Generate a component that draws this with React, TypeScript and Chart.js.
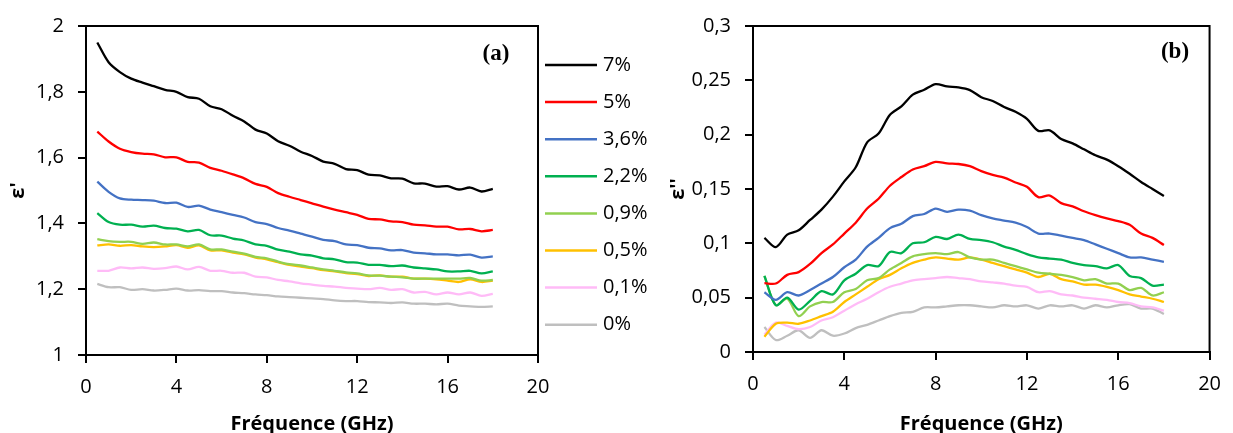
import React, { useEffect, useRef } from 'react';
import { Chart, registerables } from 'chart.js';

Chart.register(...registerables);

// Frequency (GHz)
const freq = [0.5, 1, 1.5, 2, 2.5, 3, 3.5, 4, 4.5, 5, 5.5, 6, 6.5, 7, 7.5, 8, 8.5, 9, 9.5, 10, 10.5, 11, 11.5, 12, 12.5, 13, 13.5, 14, 14.5, 15, 15.5, 16, 16.5, 17, 17.5, 18];

const seriesLabels = ['7%', '5%', '3,6%', '2,2%', '0,9%', '0,5%', '0,1%', '0%'];
const seriesColors = ['#000000', '#FF0000', '#4472C4', '#00B050', '#92D050', '#FFC000', '#FFBBF7', '#BFBFBF'];

// (a) epsilon'
const epsR_7 = [1.95, 1.89, 1.86, 1.84, 1.828, 1.817, 1.806, 1.8, 1.784, 1.779, 1.756, 1.747, 1.727, 1.71, 1.685, 1.673, 1.65, 1.636, 1.618, 1.605, 1.588, 1.581, 1.565, 1.562, 1.548, 1.546, 1.537, 1.536, 1.522, 1.521, 1.512, 1.513, 1.503, 1.509, 1.497, 1.505];
const epsR_5 = [1.679, 1.649, 1.627, 1.617, 1.612, 1.61, 1.601, 1.601, 1.587, 1.585, 1.569, 1.56, 1.549, 1.537, 1.52, 1.511, 1.492, 1.481, 1.471, 1.461, 1.451, 1.442, 1.434, 1.426, 1.414, 1.412, 1.406, 1.404, 1.396, 1.394, 1.39, 1.39, 1.382, 1.383, 1.376, 1.38];
const epsR_36 = [1.527, 1.496, 1.476, 1.472, 1.471, 1.469, 1.462, 1.463, 1.45, 1.454, 1.442, 1.434, 1.426, 1.418, 1.404, 1.398, 1.386, 1.378, 1.369, 1.36, 1.35, 1.346, 1.336, 1.334, 1.326, 1.324, 1.318, 1.319, 1.311, 1.309, 1.306, 1.306, 1.303, 1.305, 1.296, 1.3];
const epsR_22 = [1.431, 1.404, 1.396, 1.396, 1.39, 1.393, 1.386, 1.384, 1.376, 1.38, 1.364, 1.363, 1.354, 1.348, 1.336, 1.332, 1.32, 1.314, 1.306, 1.302, 1.294, 1.291, 1.282, 1.281, 1.274, 1.274, 1.27, 1.272, 1.266, 1.263, 1.26, 1.254, 1.254, 1.256, 1.248, 1.254];
const epsR_09 = [1.352, 1.346, 1.344, 1.344, 1.338, 1.342, 1.336, 1.336, 1.33, 1.336, 1.321, 1.321, 1.314, 1.308, 1.298, 1.294, 1.284, 1.276, 1.272, 1.266, 1.26, 1.256, 1.251, 1.248, 1.242, 1.241, 1.238, 1.236, 1.232, 1.232, 1.232, 1.232, 1.232, 1.234, 1.226, 1.228];
const epsR_05 = [1.333, 1.336, 1.332, 1.334, 1.33, 1.328, 1.33, 1.334, 1.326, 1.333, 1.318, 1.318, 1.311, 1.306, 1.296, 1.291, 1.282, 1.274, 1.269, 1.264, 1.258, 1.254, 1.249, 1.246, 1.24, 1.242, 1.238, 1.238, 1.232, 1.232, 1.23, 1.226, 1.222, 1.23, 1.222, 1.226];
const epsR_01 = [1.256, 1.256, 1.266, 1.263, 1.266, 1.262, 1.264, 1.269, 1.26, 1.268, 1.256, 1.256, 1.25, 1.25, 1.238, 1.236, 1.228, 1.224, 1.218, 1.214, 1.21, 1.208, 1.204, 1.202, 1.2, 1.204, 1.198, 1.2, 1.19, 1.192, 1.184, 1.19, 1.184, 1.19, 1.18, 1.186];
const epsR_0 = [1.216, 1.206, 1.206, 1.198, 1.2, 1.196, 1.198, 1.202, 1.196, 1.197, 1.194, 1.194, 1.19, 1.188, 1.184, 1.182, 1.178, 1.176, 1.174, 1.172, 1.17, 1.166, 1.164, 1.164, 1.161, 1.16, 1.158, 1.16, 1.156, 1.156, 1.154, 1.156, 1.15, 1.148, 1.146, 1.148];

// (b) epsilon''
const epsI_7 = [0.105, 0.0965, 0.108, 0.112, 0.1215, 0.131, 0.143, 0.157, 0.17, 0.193, 0.201, 0.2184, 0.2261, 0.2368, 0.2413, 0.2465, 0.2444, 0.2435, 0.241, 0.2345, 0.231, 0.2255, 0.221, 0.2145, 0.2035, 0.204, 0.196, 0.192, 0.1865, 0.181, 0.177, 0.171, 0.164, 0.1565, 0.15, 0.1436];
const epsI_5 = [0.0633, 0.063, 0.071, 0.0735, 0.081, 0.091, 0.099, 0.109, 0.119, 0.132, 0.141, 0.153, 0.161, 0.168, 0.171, 0.175, 0.1735, 0.173, 0.171, 0.1665, 0.163, 0.1605, 0.156, 0.152, 0.1425, 0.144, 0.137, 0.134, 0.1295, 0.126, 0.123, 0.1205, 0.117, 0.109, 0.105, 0.0985];
const epsI_36 = [0.055, 0.048, 0.055, 0.052, 0.057, 0.063, 0.069, 0.078, 0.085, 0.097, 0.105, 0.114, 0.118, 0.125, 0.127, 0.132, 0.129, 0.131, 0.13, 0.126, 0.123, 0.121, 0.119, 0.115, 0.109, 0.109, 0.107, 0.105, 0.103, 0.099, 0.095, 0.091, 0.087, 0.087, 0.085, 0.083];
const epsI_22 = [0.07, 0.043, 0.05, 0.039, 0.047, 0.056, 0.053, 0.066, 0.072, 0.08, 0.079, 0.092, 0.091, 0.1, 0.101, 0.106, 0.104, 0.108, 0.104, 0.103, 0.101, 0.097, 0.094, 0.09, 0.087, 0.086, 0.085, 0.082, 0.08, 0.079, 0.077, 0.08, 0.07, 0.068, 0.061, 0.062];
const epsI_09 = [0.07, 0.043, 0.049, 0.033, 0.042, 0.046, 0.046, 0.055, 0.058, 0.066, 0.068, 0.076, 0.082, 0.088, 0.09, 0.091, 0.09, 0.092, 0.087, 0.085, 0.085, 0.082, 0.079, 0.076, 0.073, 0.072, 0.071, 0.069, 0.066, 0.067, 0.063, 0.063, 0.057, 0.059, 0.052, 0.055];
const epsI_05 = [0.014, 0.026, 0.027, 0.026, 0.029, 0.033, 0.037, 0.046, 0.053, 0.06, 0.067, 0.071, 0.077, 0.082, 0.085, 0.087, 0.086, 0.085, 0.087, 0.085, 0.082, 0.079, 0.076, 0.073, 0.069, 0.072, 0.067, 0.065, 0.062, 0.062, 0.06, 0.057, 0.053, 0.051, 0.049, 0.046];
const epsI_01 = [0.016, 0.027, 0.024, 0.021, 0.023, 0.029, 0.032, 0.038, 0.044, 0.049, 0.055, 0.06, 0.063, 0.066, 0.067, 0.068, 0.069, 0.068, 0.067, 0.065, 0.064, 0.063, 0.061, 0.06, 0.055, 0.056, 0.053, 0.052, 0.05, 0.049, 0.048, 0.046, 0.045, 0.042, 0.041, 0.038];
const epsI_0 = [0.023, 0.011, 0.015, 0.02, 0.013, 0.02, 0.015, 0.017, 0.022, 0.025, 0.029, 0.033, 0.036, 0.037, 0.041, 0.041, 0.042, 0.043, 0.043, 0.042, 0.041, 0.043, 0.042, 0.043, 0.04, 0.043, 0.042, 0.043, 0.04, 0.043, 0.041, 0.043, 0.044, 0.04, 0.04, 0.035];

const realSeries = [epsR_7, epsR_5, epsR_36, epsR_22, epsR_09, epsR_05, epsR_01, epsR_0];
const imagSeries = [epsI_7, epsI_5, epsI_36, epsI_22, epsI_09, epsI_05, epsI_01, epsI_0];

const FONT = '"Open Sans", "Noto Sans", sans-serif';

function makeDatasets(series: number[][]) {
  return series.map((vals, i) => ({
    label: seriesLabels[i],
    data: freq.map((f, j) => ({ x: f, y: vals[j] })),
    borderColor: seriesColors[i],
    backgroundColor: seriesColors[i],
    borderWidth: 2.3,
    pointRadius: 0,
    tension: 0.3,
    fill: false,
  }));
}

function framePlugin(tag: string, tagX: number, tagY: number) {
  return {
    id: 'frame_' + tag,
    afterDraw(chart: any) {
      const { ctx, chartArea } = chart;
      ctx.save();
      ctx.strokeStyle = '#000';
      ctx.lineWidth = 2;
      ctx.beginPath();
      ctx.moveTo(chartArea.left, chartArea.top);
      ctx.lineTo(chartArea.right, chartArea.top);
      ctx.lineTo(chartArea.right, chartArea.bottom);
      ctx.stroke();
      ctx.fillStyle = '#000';
      ctx.font = 'bold 23px "Liberation Serif", serif';
      ctx.textAlign = 'center';
      ctx.textBaseline = 'middle';
      ctx.fillText(tag, tagX, tagY);
      ctx.restore();
    },
  };
}

const sideLegend = {
  id: 'sideLegend',
  afterDraw(chart: any) {
    const ctx = chart.ctx;
    ctx.save();
    chart.data.datasets.forEach((ds: any, i: number) => {
      const y = 65 + i * 37.1;
      ctx.strokeStyle = ds.borderColor;
      ctx.lineWidth = 2.5;
      ctx.beginPath();
      ctx.moveTo(545, y);
      ctx.lineTo(597, y);
      ctx.stroke();
      ctx.fillStyle = '#000';
      ctx.font = '20px ' + FONT;
      ctx.textAlign = 'left';
      ctx.textBaseline = 'middle';
      ctx.fillText(ds.label, 603, y);
    });
    ctx.restore();
  },
};

function axisOptions(yMin: number, yMax: number, yStep: number, yDecimals: number, yTitle: string, yWidth: number, xHeight: number) {
  const tickFont = { family: FONT, size: 20 };
  return {
    x: {
      type: 'linear',
      min: 0,
      max: 20,
      ticks: { stepSize: 4, color: '#000', font: tickFont, padding: 12, maxRotation: 0 },
      grid: { drawOnChartArea: false, drawTicks: true, tickLength: 8, color: '#000', lineWidth: 2 },
      border: { color: '#000', width: 2 },
      title: {
        display: true,
        text: 'Fréquence (GHz)',
        color: '#000',
        font: { family: FONT, size: 20, weight: 'bold', lineHeight: 1.2 },
        padding: { top: 0, bottom: -3 },
      },
      afterFit: (s: any) => { s.height = xHeight; },
    },
    y: {
      type: 'linear',
      min: yMin,
      max: yMax,
      ticks: {
        stepSize: yStep,
        color: '#000',
        font: tickFont,
        padding: 14,
        callback: (v: number) => String(Math.round(v * Math.pow(10, yDecimals)) / Math.pow(10, yDecimals)).replace('.', ','),
      },
      grid: { drawOnChartArea: false, drawTicks: true, tickLength: 8, color: '#000', lineWidth: 2 },
      border: { color: '#000', width: 2 },
      title: {
        display: true,
        text: yTitle,
        color: '#000',
        font: { family: FONT, size: 20, weight: 'bold', lineHeight: 1.2 },
        padding: { top: 6, bottom: 0 },
      },
      afterFit: (s: any) => { s.width = yWidth; },
    },
  };
}

export default function App() {
  const refA = useRef<HTMLCanvasElement>(null);
  const refB = useRef<HTMLCanvasElement>(null);

  useEffect(() => {
    const chartA = new Chart(refA.current as HTMLCanvasElement, {
      type: 'line',
      data: { datasets: makeDatasets(realSeries) as any },
      options: {
        responsive: false,
        animation: false,
        devicePixelRatio: 1,
        layout: { padding: { top: 22, right: 660 - 538, bottom: 0, left: 0 } },
        plugins: { legend: { display: false }, tooltip: { enabled: false } },
        scales: axisOptions(1, 2, 0.2, 1, "ε'", 86, 78) as any,
      },
      plugins: [framePlugin('(a)', 496, 54), sideLegend],
    } as any);

    const chartB = new Chart(refB.current as HTMLCanvasElement, {
      type: 'line',
      data: { datasets: makeDatasets(imagSeries) as any },
      options: {
        responsive: false,
        animation: false,
        devicePixelRatio: 1,
        layout: { padding: { top: 23, right: 573 - 552, bottom: 0, left: 0 } },
        plugins: { legend: { display: false }, tooltip: { enabled: false } },
        scales: axisOptions(0, 0.3, 0.05, 2, "ε''", 93, 81) as any,
      },
      plugins: [framePlugin('(b)', 1175 - 660, 52)],
    } as any);

    return () => {
      chartA.destroy();
      chartB.destroy();
    };
  }, []);

  return (
    <div style={{ position: 'absolute', left: 0, top: 0, width: 1233, height: 433, background: '#fff', overflow: 'hidden' }}>
      <canvas ref={refA} width={660} height={433} style={{ position: 'absolute', left: 0, top: 0, width: 660, height: 433 }} />
      <canvas ref={refB} width={573} height={433} style={{ position: 'absolute', left: 660, top: 0, width: 573, height: 433 }} />
    </div>
  );
}
